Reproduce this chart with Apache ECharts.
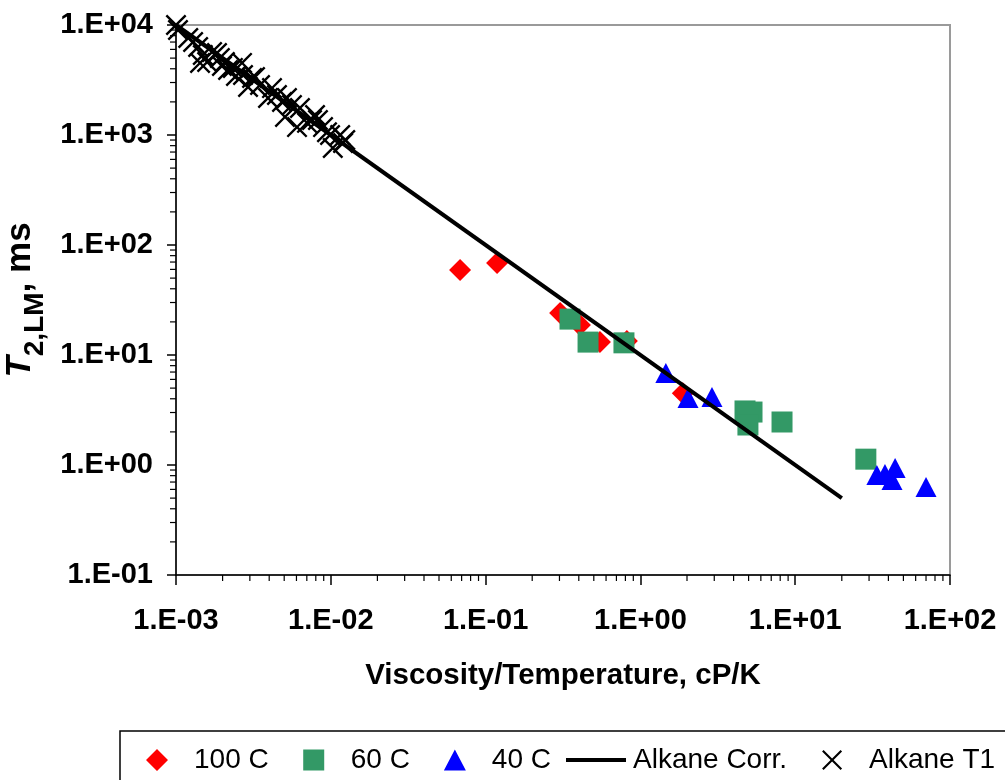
<!DOCTYPE html>
<html>
<head>
<meta charset="utf-8">
<script src="https://cdn.jsdelivr.net/npm/echarts@6/dist/echarts.min.js"></script>
<style>
html,body{margin:0;padding:0;background:#fff;}
#chart{width:1005px;height:780px;}
</style>
</head>
<body>
<div id="chart"></div>
<script>
// ---- data ----
const x100 = [0.0684, 0.1186, 0.303, 0.407, 0.548, 0.818, 1.88];
const y100 = [59.3, 68.6, 24.1, 18.7, 13.1, 13.4, 4.5];

const x60 = [0.351, 0.459, 0.783, 4.74, 5.26, 4.95, 8.22, 28.6];
const y60 = [21.2, 13.1, 12.9, 3.10, 3.03, 2.31, 2.46, 1.13];

const x40 = [1.46, 2.03, 2.90, 33.7, 38.0, 42.2, 44.2, 70.0];
const y40 = [6.86, 4.06, 4.15, 0.81, 0.83, 0.73, 0.94, 0.63];

const corrX = [0.001, 20];
const corrY = [10000, 0.5];

const t1X = [0.00100, 0.00103, 0.00120, 0.00129, 0.00139, 0.00143, 0.00149, 0.00159, 0.00171, 0.00184,
             0.00192, 0.00198, 0.00207, 0.00217, 0.00233, 0.00244, 0.00267, 0.00271, 0.00292, 0.00310,
             0.00324, 0.00349, 0.00393, 0.00417, 0.00449, 0.00484, 0.00506, 0.00521, 0.00561, 0.00605,
             0.00632, 0.00702, 0.00756, 0.00791, 0.00826, 0.00891, 0.00945, 0.00989, 0.0103, 0.0115,
             0.0120, 0.0124];
const t1Y = [10000, 9000, 7620, 7000, 6310, 4520, 5340, 4610, 5680, 5560,
             5010, 4240, 4610, 3900, 4070, 3440, 4520, 3510, 2730, 3300,
             3370, 2850, 2170, 2670, 2310, 2000, 1460, 2170, 1870, 1180,
             1760, 1290, 1370, 1520, 1370, 1180, 1060, 1000, 762, 1000,
             845, 900];

const seriesNames = ['100 C', '60 C', '40 C', 'Alkane Corr.', 'Alkane T1'];
const xAxisTitle = 'Viscosity/Temperature, cP/K';
const xMin = 0.001, xMax = 100, yMin = 0.1, yMax = 10000;

// ---- helpers ----
const zip = (a, b) => a.map((v, i) => [v, b[i]]);
function sci(v) {
  const e = Math.round(Math.log10(v));
  return '1.E' + (e < 0 ? '-' : '+') + String(Math.abs(e)).padStart(2, '0');
}
function minorValues(lo, hi) {
  const out = [];
  for (let e = Math.round(Math.log10(lo)); e < Math.round(Math.log10(hi)); e++) {
    for (let m = 2; m <= 9; m++) out.push(m * Math.pow(10, e));
  }
  return out;
}
const xMinor = minorValues(xMin, xMax).map(v => [v, yMin]);
const yMinor = minorValues(yMin, yMax).map(v => [xMin, v]);

const CROSS = 'path://M8,0L50,42L92,0L100,8L58,50L100,92L92,100L50,58L8,100L0,92L42,50L0,8Z';
// legend icons: shapes drawn inside a fixed 64x22 box (degenerate corner segments set the box)
const BOX = 'M0,0L0,0ZM64,22L64,22Z';
const L_DIAMOND = 'path://' + BOX + 'M32,0L43,11L32,22L21,11Z';
const L_SQUARE = 'path://' + BOX + 'M21.5,0.5H42.5V21.5H21.5Z';
const L_TRIANGLE = 'path://' + BOX + 'M32,0.5L43,21.5H21Z';
const L_LINE = 'path://' + BOX + 'M2,9H62V13H2Z';
const L_CROSS = 'path://' + BOX + 'M23.5,1L32,9.5L40.5,1L42,2.5L33.5,11L42,19.5L40.5,21L32,12.5L23.5,21L22,19.5L30.5,11L22,2.5Z';
const FONT = 'Liberation Sans';

const chart = echarts.init(document.getElementById('chart'), null, {renderer: 'canvas'});
chart.setOption({
  animation: false,
  backgroundColor: '#fff',
  textStyle: {fontFamily: FONT},
  grid: {left: 176, right: 55, top: 25, bottom: 205, containLabel: false, outerBoundsMode: 'none',
         show: true, borderColor: '#9a9a9a', borderWidth: 2, backgroundColor: 'transparent'},
  legend: {
    data: [
      {name: seriesNames[0], icon: L_DIAMOND},
      {name: seriesNames[1], icon: L_SQUARE},
      {name: seriesNames[2], icon: L_TRIANGLE},
      {name: seriesNames[3], icon: L_LINE},
      {name: seriesNames[4], icon: L_CROSS}
    ],
    left: 120, top: 731, width: 930,
    padding: [15, 20, 15, 5],
    borderColor: '#000', borderWidth: 1.5,
    itemWidth: 64, itemHeight: 22, itemGap: 13,
    symbolKeepAspect: true,
    textStyle: {fontSize: 28, color: '#000', fontFamily: FONT}
  },
  xAxis: {
    type: 'log', logBase: 10, min: xMin, max: xMax,
    name: xAxisTitle, nameLocation: 'middle', nameGap: 86,
    nameTextStyle: {fontSize: 29.5, fontWeight: 'bold', color: '#000', fontFamily: FONT},
    axisLine: {show: true, lineStyle: {color: '#000', width: 1.5}},
    axisTick: {show: true, length: 10, lineStyle: {color: '#000', width: 1.5}},
    axisLabel: {formatter: sci, fontSize: 29, fontWeight: 'bold', color: '#000', margin: 31, fontFamily: FONT},
    splitLine: {show: false}
  },
  yAxis: {
    type: 'log', logBase: 10, min: yMin, max: yMax,
    name: '{i|T}{s|2,LM}{n|, ms}', nameLocation: 'middle', nameGap: 112, nameRotate: 90,
    nameTextStyle: {
      color: '#000', fontFamily: FONT,
      rich: {
        i: {fontSize: 35, fontWeight: 'bold', fontStyle: 'italic', lineHeight: 36, verticalAlign: 'top', fontFamily: FONT},
        s: {fontSize: 28, fontWeight: 'bold', lineHeight: 47, verticalAlign: 'bottom', fontFamily: FONT},
        n: {fontSize: 35, fontWeight: 'bold', lineHeight: 36, verticalAlign: 'top', fontFamily: FONT}
      }
    },
    axisLine: {show: true, lineStyle: {color: '#000', width: 1.5}},
    axisTick: {show: true, length: 9, lineStyle: {color: '#000', width: 1.5}},
    axisLabel: {formatter: sci, fontSize: 29, fontWeight: 'bold', color: '#000', margin: 23, fontFamily: FONT},
    splitLine: {show: false}
  },
  series: [
    {
      type: 'custom', name: 'xMinorTicks', silent: true, clip: false, z: 1,
      data: xMinor,
      renderItem: (params, api) => {
        const p = api.coord([api.value(0), api.value(1)]);
        return {type: 'line', shape: {x1: p[0], y1: p[1], x2: p[0], y2: p[1] + 6}, style: {stroke: '#000', lineWidth: 1.2}};
      }
    },
    {
      type: 'custom', name: 'yMinorTicks', silent: true, clip: false, z: 1,
      data: yMinor,
      renderItem: (params, api) => {
        const p = api.coord([api.value(0), api.value(1)]);
        return {type: 'line', shape: {x1: p[0] - 6, y1: p[1], x2: p[0], y2: p[1]}, style: {stroke: '#000', lineWidth: 1.2}};
      }
    },
    {
      type: 'scatter', name: seriesNames[0], data: zip(x100, y100),
      symbol: 'diamond', symbolSize: 22, itemStyle: {color: '#ff0000', opacity: 1}, z: 3
    },
    {
      type: 'scatter', name: seriesNames[1], data: zip(x60, y60),
      symbol: 'rect', symbolSize: 21, itemStyle: {color: '#339966', opacity: 1}, z: 4
    },
    {
      type: 'scatter', name: seriesNames[2], data: zip(x40, y40),
      symbol: 'triangle', symbolSize: [21, 20], itemStyle: {color: '#0000ff', opacity: 1}, z: 5
    },
    {
      type: 'line', name: seriesNames[3], data: zip(corrX, corrY),
      showSymbol: false, symbol: 'none', lineStyle: {color: '#000', width: 4}, itemStyle: {color: '#000'}, z: 6
    },
    {
      type: 'scatter', name: seriesNames[4], data: zip(t1X, t1Y),
      symbol: CROSS, symbolSize: 21, itemStyle: {color: '#000', opacity: 1}, z: 7
    }
  ]
});
</script>
</body>
</html>
